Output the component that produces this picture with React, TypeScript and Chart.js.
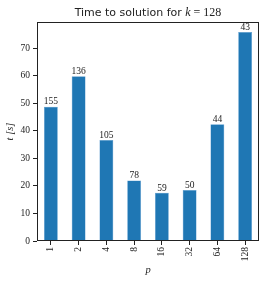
import React, { useEffect, useRef } from "react";
import { Chart, registerables } from "chart.js";

Chart.register(...registerables);

const categories = ["1", "2", "4", "8", "16", "32", "64", "128"];
const times = [48.8, 59.9, 36.7, 22.0, 17.5, 18.5, 42.4, 76.0];
const barLabels = ["155", "136", "105", "78", "59", "50", "44", "43"];
const yTicks = [0, 10, 20, 30, 40, 50, 60, 70];

const SERIF = "'Liberation Serif', 'DejaVu Serif', serif";
const SANS = "'DejaVu Sans', 'Liberation Sans', sans-serif";

const boxAndLabels = {
  id: "boxAndLabels",
  afterDatasetsDraw(chart: any) {
    const ctx = chart.ctx;
    const meta = chart.getDatasetMeta(0);
    ctx.save();
    ctx.fillStyle = "#222";
    ctx.font = `9.5px ${SERIF}`;
    ctx.textAlign = "center";
    ctx.textBaseline = "bottom";
    meta.data.forEach((bar: any, i: number) => {
      ctx.fillText(barLabels[i], bar.x, bar.y);
    });
    ctx.restore();
  },
  afterDraw(chart: any) {
    const { ctx, chartArea } = chart;
    ctx.save();
    ctx.strokeStyle = "#222";
    ctx.lineWidth = 1;
    ctx.strokeRect(
      Math.round(chartArea.left) + 0.5,
      Math.round(chartArea.top) + 0.5,
      Math.round(chartArea.right - chartArea.left) - 1,
      Math.round(chartArea.bottom - chartArea.top) - 1
    );
    const parts = [
      { t: "Time to solution for ", f: `11px ${SANS}` },
      { t: "k", f: `italic 12px ${SERIF}` },
      { t: " = 128", f: `12px ${SERIF}` },
    ];
    let total = 0;
    const widths = parts.map((p) => {
      ctx.font = p.f;
      const w = ctx.measureText(p.t).width;
      total += w;
      return w;
    });
    let x = (chartArea.left + chartArea.right) / 2 - total / 2;
    ctx.fillStyle = "#222";
    ctx.textBaseline = "alphabetic";
    ctx.textAlign = "left";
    parts.forEach((p, i) => {
      ctx.font = p.f;
      ctx.fillText(p.t, x, 16);
      x += widths[i];
    });
    ctx.restore();
  },
};

export default function App() {
  const ref = useRef<HTMLCanvasElement>(null);
  useEffect(() => {
    const chart = new Chart(ref.current!, {
      type: "bar",
      data: {
        labels: categories,
        datasets: [
          {
            data: times,
            backgroundColor: "#1f77b4",
            borderColor: "#5a9bd0",
            borderWidth: 0.5,
            barPercentage: 0.5,
            categoryPercentage: 1,
          },
        ],
      },
      options: {
        animation: false,
        responsive: false,
        layout: { padding: { left: 0, right: 11, top: 22, bottom: 0 } },
        plugins: { legend: { display: false }, tooltip: { enabled: false } },
        scales: {
          x: {
            grid: { drawOnChartArea: false, tickLength: 4, color: "#222", offset: false },
            border: { display: false },
            ticks: {
              minRotation: 90,
              maxRotation: 90,
              padding: 2,
              color: "#222",
              font: { family: SERIF, size: 9.5 },
            },
            title: {
              display: true,
              text: "p",
              color: "#222",
              font: { family: SERIF, size: 10.5, style: "italic" },
              padding: { top: 0, bottom: 6 },
            },
            afterFit: (s: any) => {
              s.height = 42;
            },
          },
          y: {
            min: 0,
            max: 79.6,
            grid: { drawOnChartArea: false, tickLength: 4, color: "#222" },
            border: { display: false },
            afterBuildTicks: (s: any) => {
              s.ticks = yTicks.map((v) => ({ value: v }));
            },
            ticks: {
              padding: 3,
              color: "#222",
              font: { family: SERIF, size: 9.5 },
            },
            title: {
              display: true,
              text: "t [s]",
              color: "#222",
              font: { family: SERIF, size: 10.5, style: "italic" },
              padding: { top: 4, bottom: 0 },
            },
            afterFit: (s: any) => {
              s.width = 37;
            },
          },
        },
      },
      plugins: [boxAndLabels],
    });
    return () => chart.destroy();
  }, []);
  return (
    <div style={{ position: "absolute", left: 0, top: 0, width: 270, height: 283 }}>
      <canvas ref={ref} width={270} height={283} />
    </div>
  );
}
